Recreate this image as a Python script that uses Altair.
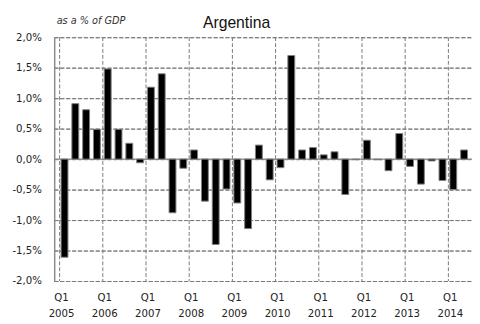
import altair as alt
import pandas as pd

quarters = [
    "2005Q1", "2005Q2", "2005Q3", "2005Q4",
    "2006Q1", "2006Q2", "2006Q3", "2006Q4",
    "2007Q1", "2007Q2", "2007Q3", "2007Q4",
    "2008Q1", "2008Q2", "2008Q3", "2008Q4",
    "2009Q1", "2009Q2", "2009Q3", "2009Q4",
    "2010Q1", "2010Q2", "2010Q3", "2010Q4",
    "2011Q1", "2011Q2", "2011Q3", "2011Q4",
    "2012Q1", "2012Q2", "2012Q3", "2012Q4",
    "2013Q1", "2013Q2", "2013Q3", "2013Q4",
    "2014Q1", "2014Q2",
]
values = [
    -1.61, 0.91, 0.81, 0.49,
    1.48, 0.49, 0.26, -0.06,
    1.18, 1.40, -0.88, -0.15,
    0.15, -0.69, -1.40, -0.49,
    -0.72, -1.14, 0.23, -0.34,
    -0.14, 1.70, 0.15, 0.19,
    0.07, 0.12, -0.58, -0.01,
    0.31, -0.01, -0.19, 0.42,
    -0.12, -0.41, -0.03, -0.35,
    -0.50, 0.15,
]
y_ticks = [-2.0, -1.5, -1.0, -0.5, 0.0, 0.5, 1.0, 1.5, 2.0]
x_labels_top = "Q1"
years = [q[:4] for q in quarters if q.endswith("Q1")]

df = pd.DataFrame({"quarter": quarters, "value": values})
df["idx"] = range(len(df))
zero_df = pd.DataFrame({"zero": [0.0]})

# year boundaries sit half a quarter before each Q1 bar
boundaries = [i - 0.5 for i, q in enumerate(quarters) if q.endswith("Q1")]
year_lookup = "[" + ",".join("'%s'" % y for y in years) + "]"
ygrid_df = pd.DataFrame({"yv": y_ticks})
xgrid_df = pd.DataFrame({"xv": boundaries})

FONT = "Liberation Sans Narrow, DejaVu Sans Condensed, Liberation Sans, sans-serif"
GRID = "#7a7a7a"
TXT = "#222222"

PLOT_W = 425
STEP = 11.25  # pixels per quarter, as in the reference
x_scale = alt.Scale(domain=[-0.5, -0.5 + PLOT_W / STEP], nice=False, zero=False)
x_axis = alt.Axis(
    values=boundaries,
    labelOffset=2,
    labelAngle=0,
    labelAlign="center",
    labelExpr="['%s', %s[round((datum.value + 0.5) / 4)]]" % (x_labels_top, year_lookup),
    labelFont=FONT,
    labelFontSize=11.5,
    labelLineHeight=16,
    labelPadding=11,
    labelColor=TXT,
    labelOverlap=False,
    labelFlush=False,
    grid=False,
    ticks=False,
    domain=False,
    title=None,
)

y_scale = alt.Scale(domain=[-2, 2], nice=False)
y_axis = alt.Axis(
    values=y_ticks,
    tickCount=9,
    labelExpr="(datum.value < 0 ? '-' : '') + replace(format(abs(datum.value), '.1f'), '.', ',') + '%'",
    labelFont=FONT,
    labelFontSize=11.5,
    labelColor=TXT,
    labelPadding=13,
    labelOverlap=False,
    labelFlush=False,
    ticks=False,
    domain=True,
    domainColor="#8c8c8c",
    domainWidth=1.5,
    grid=True,
    gridColor=GRID,
    gridWidth=1,
    gridDash=[4, 2],
    title="as a % of GDP",
    titleAngle=0,
    titleX=2,
    titleY=-17,
    titleAlign="left",
    titleBaseline="middle",
    titleFont=FONT,
    titleFontSize=11,
    titleFontStyle="italic",
    titleFontWeight="normal",
    titleColor="#333333",
)

hgrid = alt.Chart(ygrid_df).mark_rule(
    color=GRID, strokeWidth=1, strokeDash=[4, 2], yOffset=0.5
).encode(
    x=alt.value(0),
    x2=alt.value(PLOT_W),
    y=alt.Y("yv:Q", scale=y_scale, axis=y_axis),
)

vgrid = alt.Chart(xgrid_df).mark_rule(
    color=GRID, strokeWidth=1, strokeDash=[4, 2], xOffset=0.5
).encode(x=alt.X("xv:Q", scale=x_scale, axis=x_axis))

bars = alt.Chart(df).mark_bar(
    color="black", stroke="#7f7f7f", strokeWidth=1, size=7
).encode(
    x=alt.X("idx:Q", scale=x_scale, axis=x_axis),
    y=alt.Y("value:Q", scale=y_scale, axis=y_axis),
)

zero_rule = alt.Chart(zero_df).mark_rule(color="#8c8c8c", strokeWidth=1.5).encode(
    y=alt.Y("zero:Q", scale=y_scale, axis=y_axis),
)

chart = alt.layer(hgrid, vgrid, zero_rule, bars).properties(
    width=PLOT_W,
    height=248,
    autosize=alt.AutoSizeParams(type="none"),
    padding={"left": 47, "top": 27, "right": 0, "bottom": 41},
    title=alt.TitleParams(
        "Argentina",
        font="Liberation Sans, Arial, sans-serif",
        fontSize=16,
        fontWeight="normal",
        color="#111111",
        anchor="middle",
        dx=-27,
        dy=24,
        offset=7,
    ),
).configure_view(strokeWidth=0)

chart.save("out.html", embed_options={"renderer": "svg", "actions": False})
